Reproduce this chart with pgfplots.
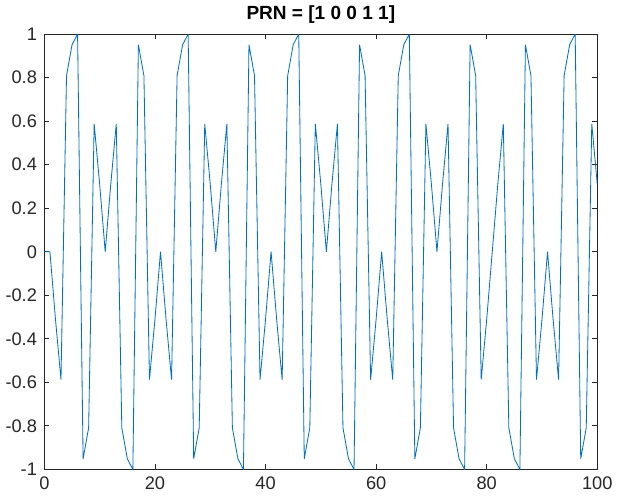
\documentclass[border=0pt]{standalone}
\usepackage{fontspec}
\setmainfont{Liberation Sans}
\usepackage{pgfplots}
\pgfplotsset{compat=1.18}
\definecolor{mlblue}{rgb}{0,0.447,0.741}
\definecolor{axgray}{rgb}{0.15,0.15,0.15}
\begin{document}
\begin{tikzpicture}
\begin{axis}[
  width=334pt, height=263pt, scale only axis,
  xmin=0, xmax=100, ymin=-1, ymax=1,
  xtick={0,20,40,60,80,100},
  ytick={-1,-0.8,-0.6,-0.4,-0.2,0,0.2,0.4,0.6,0.8,1},
  /pgf/number format/assume math mode=true,
  yticklabel style={/pgf/number format/fixed,/pgf/number format/precision=1, xshift=-1pt},
  xticklabel style={yshift=-1pt},
  tick label style={font=\fontsize{11}{13}\selectfont, text=axgray},
  axis line style={axgray, line width=0.5pt},
  tick style={axgray, line width=0.5pt},
  tick align=inside,
  major tick length=3pt,
  title={\bfseries PRN = [1 0 0 1 1]},
  title style={font=\fontsize{11.5}{13}\selectfont, yshift=-3pt},
]
\addplot[mlblue, line width=0.5pt] coordinates {
  (0,0)
  (1,0) (2,-0.3090) (3,-0.5878) (4,0.8090) (5,0.9511) (6,1) (7,-0.9511) (8,-0.8090) (9,0.5878) (10,0.3090)
  (11,0) (12,0.3090) (13,0.5878) (14,-0.8090) (15,-0.9511) (16,-1) (17,0.9511) (18,0.8090) (19,-0.5878) (20,-0.3090)
  (21,0) (22,-0.3090) (23,-0.5878) (24,0.8090) (25,0.9511) (26,1) (27,-0.9511) (28,-0.8090) (29,0.5878) (30,0.3090)
  (31,0) (32,0.3090) (33,0.5878) (34,-0.8090) (35,-0.9511) (36,-1) (37,0.9511) (38,0.8090) (39,-0.5878) (40,-0.3090)
  (41,0) (42,-0.3090) (43,-0.5878) (44,0.8090) (45,0.9511) (46,1) (47,-0.9511) (48,-0.8090) (49,0.5878) (50,0.3090)
  (51,0) (52,0.3090) (53,0.5878) (54,-0.8090) (55,-0.9511) (56,-1) (57,0.9511) (58,0.8090) (59,-0.5878) (60,-0.3090)
  (61,0) (62,-0.3090) (63,-0.5878) (64,0.8090) (65,0.9511) (66,1) (67,-0.9511) (68,-0.8090) (69,0.5878) (70,0.3090)
  (71,0) (72,0.3090) (73,0.5878) (74,-0.8090) (75,-0.9511) (76,-1) (77,0.9511) (78,0.8090) (79,-0.5878) (80,-0.3090)
  (81,0) (82,0.3090) (83,0.5878) (84,-0.8090) (85,-0.9511) (86,-1) (87,0.9511) (88,0.8090) (89,-0.5878) (90,-0.3090)
  (91,0) (92,-0.3090) (93,-0.5878) (94,0.8090) (95,0.9511) (96,1) (97,-0.9511) (98,-0.8090) (99,0.5878) (100,0.3090)
};
\end{axis}
\end{tikzpicture}
\end{document}
